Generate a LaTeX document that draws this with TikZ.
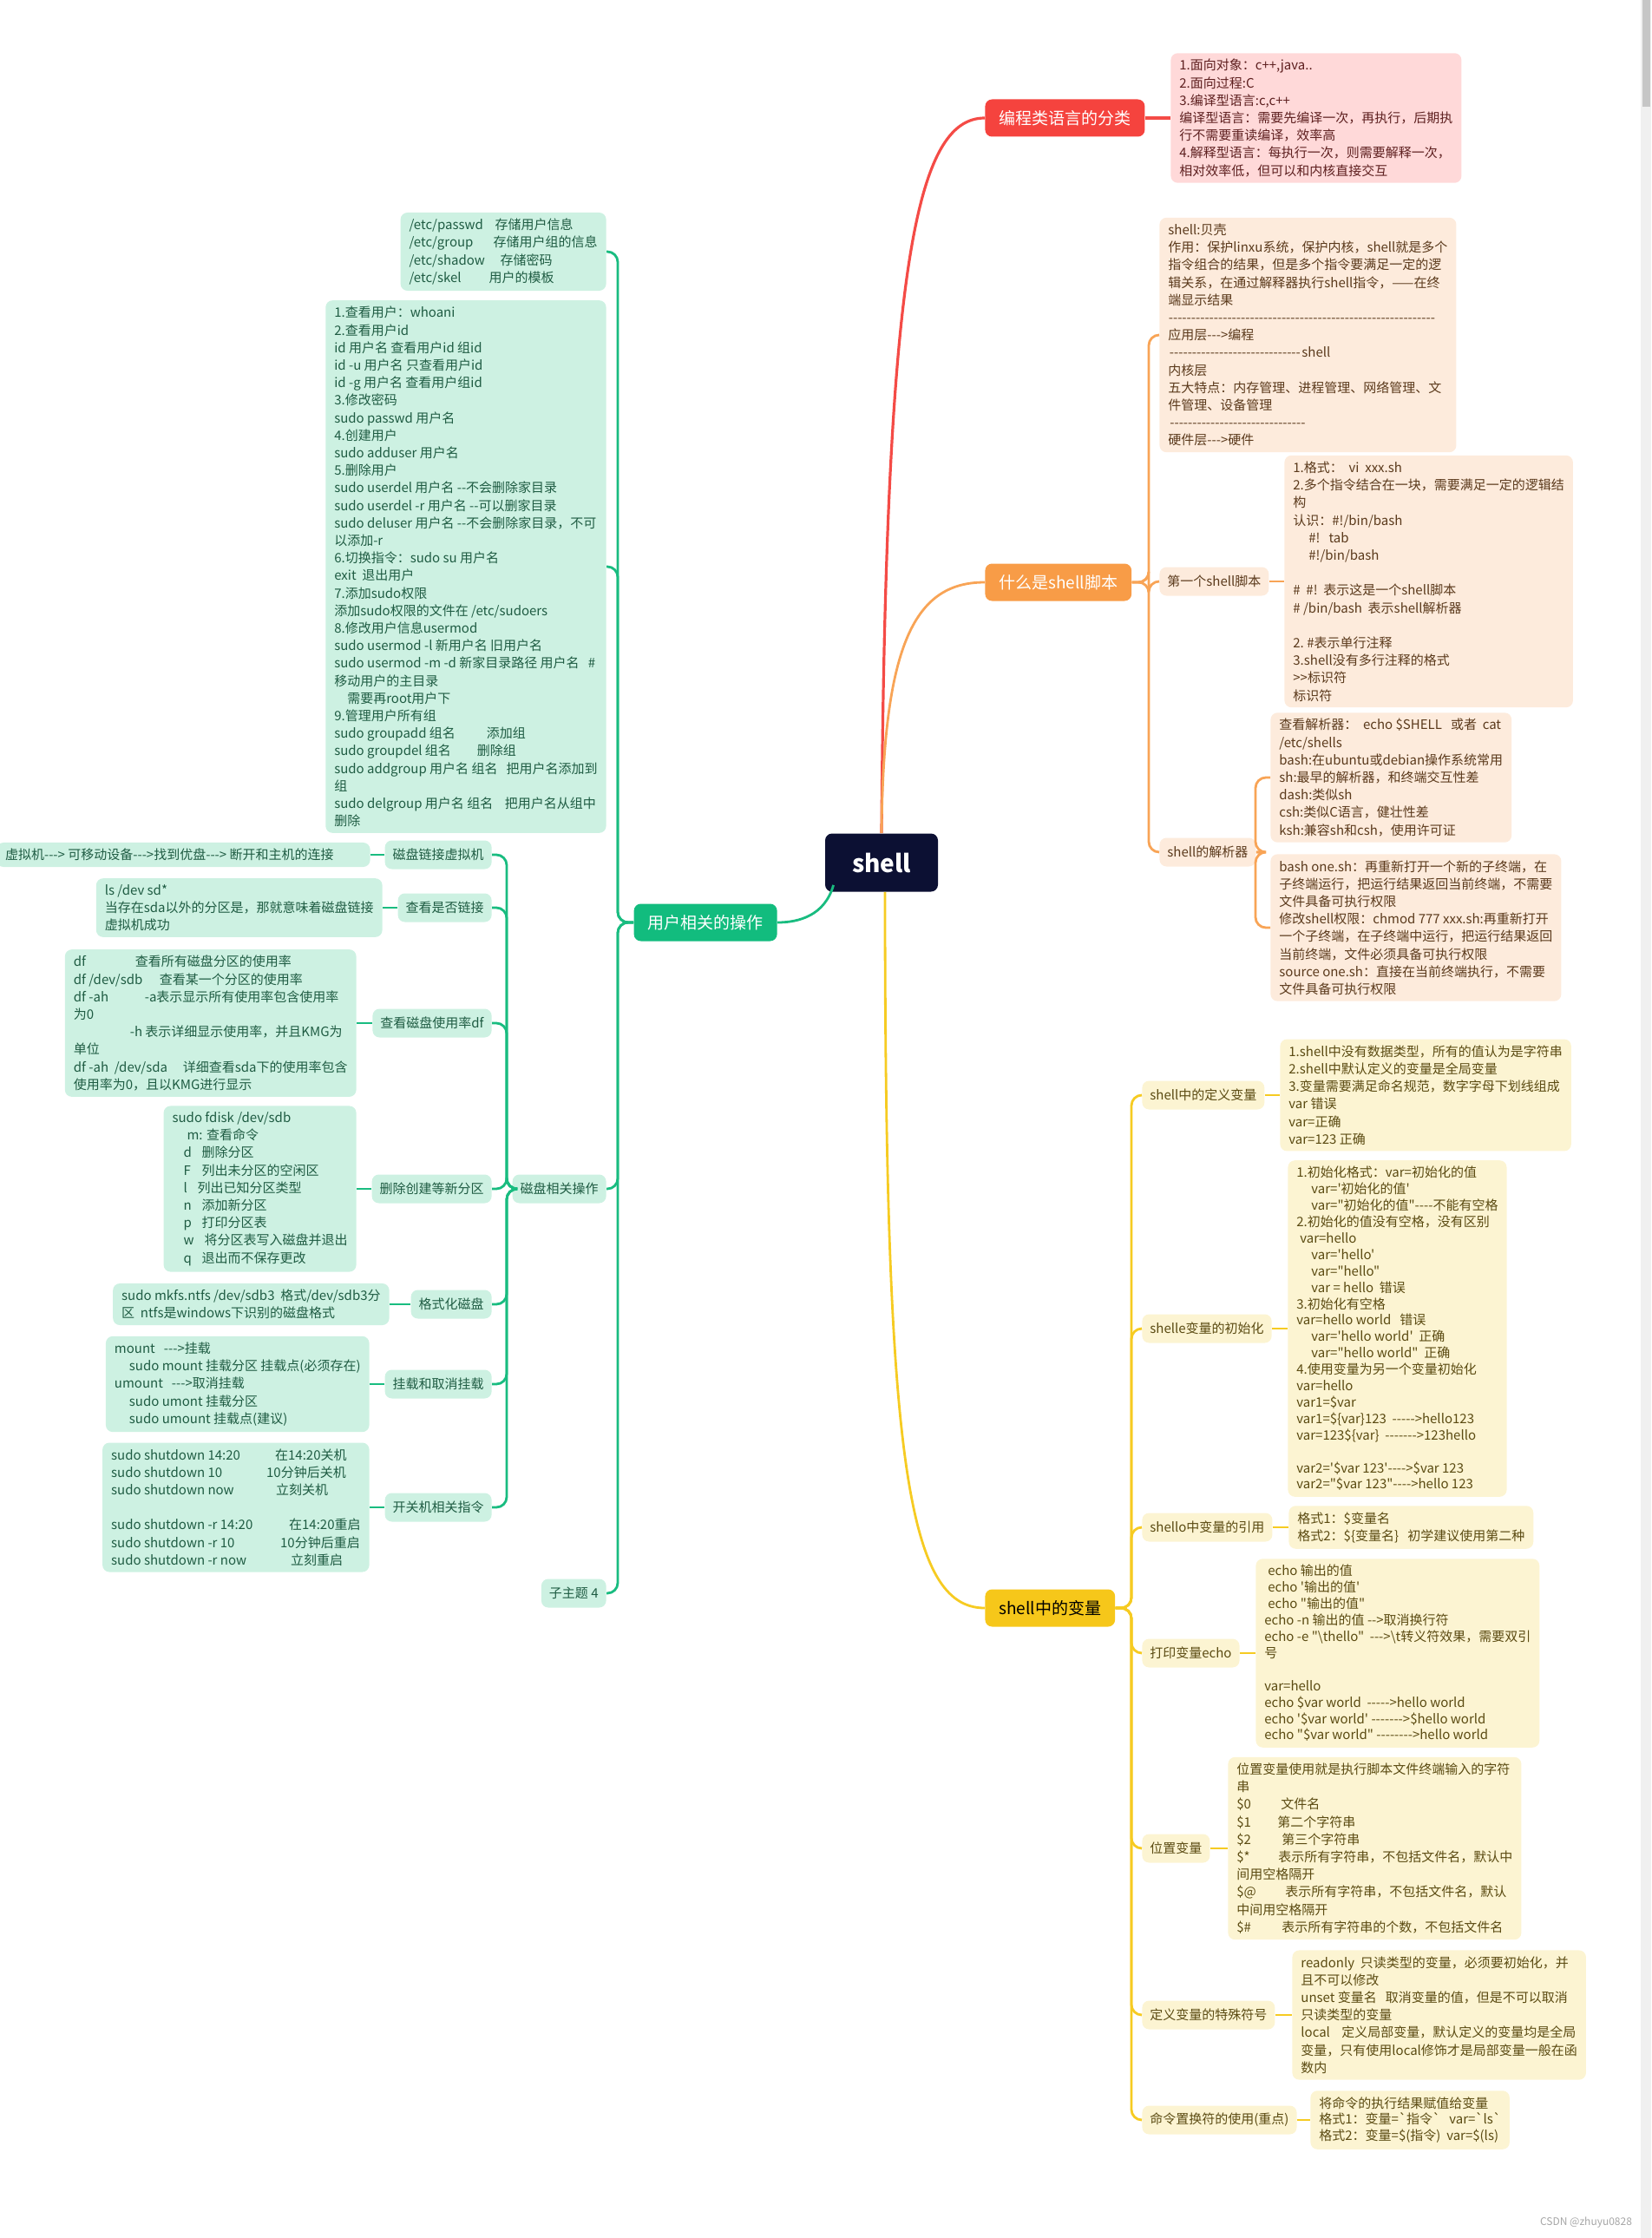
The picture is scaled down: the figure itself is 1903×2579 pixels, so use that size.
\documentclass[tikz,border=0pt]{standalone}
\usepackage{fontspec}
\newfontfamily\cnfont{Noto Sans CJK SC}[Ligatures=TeXOff]
\usepackage{tikz}
\usetikzlibrary{positioning,calc}

\definecolor{rootc}{HTML}{0C1033}
\definecolor{rmainc}{HTML}{F5433E}
\definecolor{rlinec}{HTML}{F44B46}
\definecolor{rleafc}{HTML}{FFD9D9}
\definecolor{rtextc}{HTML}{5E2020}
\definecolor{omainc}{HTML}{F89C47}
\definecolor{olinec}{HTML}{F8A456}
\definecolor{oleafc}{HTML}{FDEBDC}
\definecolor{otextc}{HTML}{5B3A1C}
\definecolor{gmainc}{HTML}{12BC7E}
\definecolor{glinec}{HTML}{19BC80}
\definecolor{gleafc}{HTML}{CDF1E2}
\definecolor{gtextc}{HTML}{1F5C43}
\definecolor{ymainc}{HTML}{F6C71A}
\definecolor{ylinec}{HTML}{F6CB22}
\definecolor{yleafc}{HTML}{FCF4D2}
\definecolor{ytextc}{HTML}{5B4B12}

\newcommand{\dashline}[1]{\hbox to #1{\cleaders\hbox{-}\hfill}}

\begin{document}
\begin{tikzpicture}[x=0.5pt,y=-0.5pt,
    root/.style={fill=rootc,text=white,rounded corners=4pt,minimum width=65pt,minimum height=33.5pt,font=\cnfont\bfseries\fontsize{14}{16}\selectfont},
    topic/.style={rounded corners=4pt,inner xsep=8pt,minimum height=21.5pt,font=\cnfont\fontsize{9.5}{11}\selectfont},
    sub/.style={rounded corners=4pt,inner xsep=4.5pt,minimum height=16.5pt,font=\cnfont\fontsize{7.5}{9}\selectfont},
    leaf/.style={rounded corners=4pt,align=left,inner xsep=5pt,inner ysep=3.5pt,font=\cnfont\fontsize{7.5}{10.1}\selectfont},
    tight/.style={font=\cnfont\fontsize{7.5}{9.45}\selectfont},
    rleaf/.style={leaf,fill=rleafc,text=rtextc},
    osub/.style={sub,fill=oleafc,text=otextc},
    oleaf/.style={leaf,fill=oleafc,text=otextc},
    gsub/.style={sub,fill=gleafc,text=gtextc},
    gleaf/.style={leaf,fill=gleafc,text=gtextc},
    ysub/.style={sub,fill=yleafc,text=ytextc},
    yleaf/.style={leaf,fill=yleafc,text=ytextc},
    rline/.style={draw=rlinec,line width=1.6pt},
    oline/.style={draw=olinec,line width=1.4pt,rounded corners=6pt},
    gline/.style={draw=glinec,line width=1.4pt,rounded corners=6pt},
    yline/.style={draw=ylinec,line width=1.4pt,rounded corners=6pt}
  ]
  \useasboundingbox (0,0) rectangle (1903,2579);
  % scroll bar of the screenshot
  \fill[gray!12] (1891,0) rectangle (1903,2579);
  \fill[gray!45] (1893,0) rectangle (1902,123);

  \coordinate (oj) at (1324,671);
  \coordinate (pj) at (1447,982);
  \coordinate (yj) at (1304,1853);
  \coordinate (gj) at (712,1063);
  \coordinate (dj) at (584,1370);

  \node[root] (shell) at (1016,994) {shell};

  % red branch
  \node[topic,fill=rmainc,text=white,anchor=west] (lang) at (1135,136) {编程类语言的分类};
  \node[rleaf,anchor=west] (langbox) at (1349,136) {1.面向对象：c++,java..\\
    2.面向过程:C\\
    3.编译型语言:c,c++\\
    编译型语言：需要先编译一次，再执行，后期执\\
    行不需要重读编译，效率高\\
    4.解释型语言：每执行一次，则需要解释一次，\\
    相对效率低，但可以和内核直接交互};

  % orange branch
  \node[topic,fill=omainc,text=white,anchor=west] (what) at (1135,671) {什么是shell脚本};
  \node[oleaf,anchor=west] (shellbox) at (1336,386) {shell:贝壳\\
    作用：保护linxu系统，保护内核，shell就是多个\\
    指令组合的结果，但是多个指令要满足一定的逻\\
    辑关系，在通过解释器执行shell指令，——在终\\
    端显示结果\\
    \dashline{154pt}\\
    应用层--->编程\\
    \dashline{77pt}shell\\
    内核层\\
    五大特点：内存管理、进程管理、网络管理、文\\
    件管理、设备管理\\
    \dashline{80pt}\\
    硬件层--->硬件};
  \node[osub,anchor=west] (first) at (1336,670) {第一个shell脚本};
  \node[oleaf,anchor=west] (firstbox) at (1480,670) {1.格式：~~vi~~xxx.sh\\
    2.多个指令结合在一块，需要满足一定的逻辑结\\
    构\\
    认识：\#!/bin/bash\\
    \hspace*{9pt}\#!~~~tab\\
    \hspace*{9pt}\#!/bin/bash\\
    \mbox{}\\
    \#~~\#!~~表示这是一个shell脚本\\
    \#~/bin/bash~~表示shell解析器\\
    \mbox{}\\
    2.~\#表示单行注释\\
    3.shell没有多行注释的格式\\
    >>标识符\\
    标识符};
  \node[osub,anchor=west] (parser) at (1336,982) {shell的解析器};
  \node[oleaf,anchor=west] (pbox1) at (1464,896) {查看解析器：~~echo \$SHELL~~~或者~~cat\\
    /etc/shells\\
    bash:在ubuntu或debian操作系统常用\\
    sh:最早的解析器，和终端交互性差\\
    dash:类似sh\\
    csh:类似C语言，健壮性差\\
    ksh:兼容sh和csh，使用许可证};
  \node[oleaf,anchor=west] (pbox2) at (1464,1069) {bash one.sh：再重新打开一个新的子终端，在\\
    子终端运行，把运行结果返回当前终端，不需要\\
    文件具备可执行权限\\
    修改shell权限：chmod 777 xxx.sh:再重新打开\\
    一个子终端，在子终端中运行，把运行结果返回\\
    当前终端，文件必须具备可执行权限\\
    source one.sh：直接在当前终端执行，不需要\\
    文件具备可执行权限};

  % yellow branch
  \node[topic,fill=ymainc,text=black,anchor=west] (var) at (1135,1853) {shell中的变量};
  \node[ysub,anchor=west] (vdef) at (1316,1262) {shell中的定义变量};
  \node[yleaf,anchor=west] (vdefbox) at (1475,1262) {1.shell中没有数据类型，所有的值认为是字符串\\
    2.shell中默认定义的变量是全局变量\\
    3.变量需要满足命名规范，数字字母下划线组成\\
    var 错误\\
    var=正确\\
    var=123 正确};
  \node[ysub,anchor=west] (vinit) at (1316,1531) {shelle变量的初始化};
  \node[yleaf,tight,anchor=west] (vinitbox) at (1484,1531) {1.初始化格式：var=初始化的值\\
    \hspace*{8.5pt}var='初始化的值'\\
    \hspace*{8.5pt}var="初始化的值"----不能有空格\\
    2.初始化的值没有空格，没有区别\\
    \hspace*{2pt}var=hello\\
    \hspace*{8.5pt}var='hello'\\
    \hspace*{8.5pt}var="hello"\\
    \hspace*{8.5pt}var = hello~~错误\\
    3.初始化有空格\\
    var=hello world~~~错误\\
    \hspace*{8.5pt}var='hello world'~~正确\\
    \hspace*{8.5pt}var="hello world"~~正确\\
    4.使用变量为另一个变量初始化\\
    var=hello\\
    var1=\$var\\
    var1=\$\{var\}123~~----->hello123\\
    var=123\$\{var\}~~------->123hello\\
    \mbox{}\\
    var2='\$var 123'---->\$var 123\\
    var2="\$var 123"---->hello 123};
  \node[ysub,anchor=west] (vref) at (1316,1760) {shello中变量的引用};
  \node[yleaf,anchor=west] (vrefbox) at (1485,1760) {格式1：\$变量名\\
    格式2：\$\{变量名\}~~~初学建议使用第二种};
  \node[ysub,anchor=west] (vecho) at (1316,1905) {打印变量echo};
  \node[yleaf,tight,anchor=west] (vechobox) at (1447,1905) {\hspace*{2pt}echo 输出的值\\
    \hspace*{2pt}echo '输出的值'\\
    \hspace*{2pt}echo "输出的值"\\
    echo -n 输出的值 -->取消换行符\\
    echo -e "\textbackslash thello"~~--->\textbackslash t转义符效果，需要双引\\
    号\\
    \mbox{}\\
    var=hello\\
    echo \$var world~~----->hello world\\
    echo '\$var world' ------->\$hello world\\
    echo "\$var world" -------->hello world};
  \node[ysub,anchor=west] (vpos) at (1316,2130) {位置变量};
  \node[yleaf,anchor=west] (vposbox) at (1415,2130) {位置变量使用就是执行脚本文件终端输入的字符\\
    串\\
    \makebox[25.5pt][l]{\$0}文件名\\
    \makebox[23.5pt][l]{\$1}第二个字符串\\
    \makebox[26pt][l]{\$2}第三个字符串\\
    \makebox[24pt][l]{\$*}表示所有字符串，不包括文件名，默认中\\
    间用空格隔开\\
    \makebox[28pt][l]{\$@}表示所有字符串，不包括文件名，默认\\
    中间用空格隔开\\
    \makebox[26pt][l]{\$\#}表示所有字符串的个数，不包括文件名};
  \node[ysub,anchor=west] (vspec) at (1316,2322) {定义变量的特殊符号};
  \node[yleaf,anchor=west] (vspecbox) at (1489,2322) {readonly~~只读类型的变量，必须要初始化，并\\
    且不可以修改\\
    unset 变量名~~~取消变量的值，但是不可以取消\\
    只读类型的变量\\
    local~~~~定义局部变量，默认定义的变量均是全局\\
    变量，只有使用local修饰才是局部变量一般在函\\
    数内};
  \node[ysub,anchor=west] (vcmd) at (1316,2443) {命令置换符的使用(重点)};
  \node[yleaf,tight,anchor=west] (vcmdbox) at (1510,2443) {将命令的执行结果赋值给变量\\
    格式1：变量=`指令`~~~var=`ls`\\
    格式2：变量=\$(指令)~~var=\$(ls)};

  % green branch
  \node[topic,fill=gmainc,text=white,anchor=east] (users) at (896,1063) {用户相关的操作};
  \node[gleaf,anchor=east] (etcbox) at (699,290) {\makebox[49.5pt][l]{/etc/passwd}存储用户信息\\
    \makebox[48.5pt][l]{/etc/group}存储用户组的信息\\
    \makebox[52.5pt][l]{/etc/shadow}存储密码\\
    \makebox[46pt][l]{/etc/skel}用户的模板};
  \node[gleaf,anchor=east] (userbox) at (699,653) {1.查看用户：whoani\\
    2.查看用户id\\
    id 用户名 查看用户id 组id\\
    id -u 用户名 只查看用户id\\
    id -g 用户名 查看用户组id\\
    3.修改密码\\
    sudo passwd 用户名\\
    4.创建用户\\
    sudo adduser 用户名\\
    5.删除用户\\
    sudo userdel 用户名 --不会删除家目录\\
    sudo userdel -r 用户名 --可以删家目录\\
    sudo deluser 用户名 --不会删除家目录，不可\\
    以添加-r\\
    6.切换指令：sudo su 用户名\\
    exit~~退出用户\\
    7.添加sudo权限\\
    添加sudo权限的文件在 /etc/sudoers\\
    8.修改用户信息usermod\\
    sudo usermod -l 新用户名 旧用户名\\
    sudo usermod -m -d 新家目录路径 用户名~~~\#\\
    移动用户的主目录\\
    \hspace*{7.5pt}需要再root用户下\\
    9.管理用户所有组\\
    sudo groupadd 组名\hspace{18pt}添加组\\
    sudo groupdel 组名\hspace{15pt}删除组\\
    sudo addgroup 用户名 组名~~~把用户名添加到\\
    组\\
    sudo delgroup 用户名 组名~~~~把用户名从组中\\
    删除};
  \node[gsub,anchor=east] (disk) at (699,1370) {磁盘相关操作};
  \node[gsub,anchor=east] (sub4) at (699,1836) {子主题 4};

  \node[gsub,anchor=east] (dlink) at (567,985) {磁盘链接虚拟机};
  \node[gleaf,anchor=east] (dlinkbox) at (427,985) {虚拟机---> 可移动设备--->找到优盘---> 断开和主机的连接\hspace{16pt}};
  \node[gsub,anchor=east] (dcheck) at (567,1046) {查看是否链接};
  \node[gleaf,anchor=east] (dcheckbox) at (441,1046) {ls /dev sd*\\
    当存在sda以外的分区是，那就意味着磁盘链接\\
    虚拟机成功};
  \node[gsub,anchor=east] (ddf) at (567,1179) {查看磁盘使用率df};
  \node[gleaf,anchor=east] (ddfbox) at (411,1179) {\makebox[35.5pt][l]{df}查看所有磁盘分区的使用率\\
    \makebox[49.5pt][l]{df /dev/sdb}查看某一个分区的使用率\\
    \makebox[41pt][l]{df -ah}-a表示显示所有使用率包含使用率\\
    为0\\
    \hspace*{32.5pt}-h 表示详细显示使用率，并且KMG为\\
    单位\\
    \makebox[63pt][l]{df -ah~~/dev/sda}详细查看sda下的使用率包含\\
    使用率为0，且以KMG进行显示};
  \node[gsub,anchor=east] (dpart) at (567,1370) {删除创建等新分区};
  \node[gleaf,anchor=east] (dpartbox) at (411,1370) {sudo fdisk /dev/sdb\\
    \hspace*{8.5pt}m: 查看命令\\
    \hspace*{6.5pt}\makebox[10.5pt][l]{d}删除分区\\
    \hspace*{6.5pt}\makebox[10.5pt][l]{F}列出未分区的空闲区\\
    \hspace*{6.5pt}\makebox[8pt][l]{l}列出已知分区类型\\
    \hspace*{6.5pt}\makebox[10.5pt][l]{n}添加新分区\\
    \hspace*{6.5pt}\makebox[10.5pt][l]{p}打印分区表\\
    \hspace*{6.5pt}\makebox[12pt][l]{w}将分区表写入磁盘并退出\\
    \hspace*{6.5pt}\makebox[10.5pt][l]{q}退出而不保存更改};
  \node[gsub,anchor=east] (dfmt) at (567,1503) {格式化磁盘};
  \node[gleaf,anchor=east] (dfmtbox) at (449,1503) {sudo mkfs.ntfs /dev/sdb3~~格式/dev/sdb3分\\
    区~~ntfs是windows下识别的磁盘格式};
  \node[gsub,anchor=east] (dmnt) at (567,1595) {挂载和取消挂载};
  \node[gleaf,anchor=east] (dmntbox) at (426,1595) {\makebox[28.5pt][l]{mount}--->挂载\\
    \hspace*{8.5pt}sudo mount 挂载分区 挂载点(必须存在)\\
    \makebox[33pt][l]{umount}--->取消挂载\\
    \hspace*{8.5pt}sudo umont 挂载分区\\
    \hspace*{8.5pt}sudo umount 挂载点(建议)};
  \node[gsub,anchor=east] (dpow) at (567,1737) {开关机相关指令};
  \node[gleaf,anchor=east] (dpowbox) at (426,1737) {\makebox[94.5pt][l]{sudo shutdown 14:20}在14:20关机\\
    \makebox[89.5pt][l]{sudo shutdown 10}10分钟后关机\\
    \makebox[95pt][l]{sudo shutdown now}立刻关机\\
    \mbox{}\\
    \makebox[102.5pt][l]{sudo shutdown -r 14:20}在14:20重启\\
    \makebox[97.5pt][l]{sudo shutdown -r 10}10分钟后重启\\
    \makebox[103.5pt][l]{sudo shutdown -r now}立刻重启};

  \node[text=gray!70,font=\cnfont\fontsize{6}{7}\selectfont,anchor=east] (mark) at (1888,2561) {CSDN @zhuyu0828};

  % main branches
  \draw[rline] (shell.north) .. controls +(5,-650) and +(-80,0) .. (lang.west);
  \draw[oline] (shell.north) .. controls +(2,-220) and +(-80,0) .. (what.west);
  \draw[gline] ([xshift=5pt,yshift=4pt]shell.south west) .. controls +(-10,35) and +(25,0) .. (users.east);
  \draw[yline] ([xshift=2pt]shell.south) .. controls +(0,650) and +(-90,0) .. (var.west);

  \draw[rline] (lang.east) -- (langbox.west);

  \draw[oline] (what.east) -- (oj) |- (shellbox.west);
  \draw[oline] (what.east) -- (oj) |- (first.west);
  \draw[oline] (what.east) -- (oj) |- (parser.west);
  \draw[oline] (first.east) -- (firstbox.west);
  \draw[oline] (parser.east) -- (pj) |- (pbox1.west);
  \draw[oline] (parser.east) -- (pj) |- (pbox2.west);

  \draw[yline] (var.east) -- (yj) |- (vdef.west);
  \draw[yline] (var.east) -- (yj) |- (vinit.west);
  \draw[yline] (var.east) -- (yj) |- (vref.west);
  \draw[yline] (var.east) -- (yj) |- (vecho.west);
  \draw[yline] (var.east) -- (yj) |- (vpos.west);
  \draw[yline] (var.east) -- (yj) |- (vspec.west);
  \draw[yline] (var.east) -- (yj) |- (vcmd.west);
  \draw[yline] (vdef.east) -- (vdefbox.west);
  \draw[yline] (vinit.east) -- (vinitbox.west);
  \draw[yline] (vref.east) -- (vrefbox.west);
  \draw[yline] (vecho.east) -- (vechobox.west);
  \draw[yline] (vpos.east) -- (vposbox.west);
  \draw[yline] (vspec.east) -- (vspecbox.west);
  \draw[yline] (vcmd.east) -- (vcmdbox.west);

  \draw[gline] (users.west) -- (gj) |- (etcbox.east);
  \draw[gline] (users.west) -- (gj) |- (userbox.east);
  \draw[gline] (users.west) -- (gj) |- (disk.east);
  \draw[gline] (users.west) -- (gj) |- (sub4.east);
  \draw[gline] (disk.west) -- (dj) |- (dlink.east);
  \draw[gline] (disk.west) -- (dj) |- (dcheck.east);
  \draw[gline] (disk.west) -- (dj) |- (ddf.east);
  \draw[gline] (disk.west) -- (dj) |- (dpart.east);
  \draw[gline] (disk.west) -- (dj) |- (dfmt.east);
  \draw[gline] (disk.west) -- (dj) |- (dmnt.east);
  \draw[gline] (disk.west) -- (dj) |- (dpow.east);
  \draw[gline] (dlink.west) -- (dlinkbox.east);
  \draw[gline] (dcheck.west) -- (dcheckbox.east);
  \draw[gline] (ddf.west) -- (ddfbox.east);
  \draw[gline] (dpart.west) -- (dpartbox.east);
  \draw[gline] (dfmt.west) -- (dfmtbox.east);
  \draw[gline] (dmnt.west) -- (dmntbox.east);
  \draw[gline] (dpow.west) -- (dpowbox.east);
\end{tikzpicture}
\end{document}
